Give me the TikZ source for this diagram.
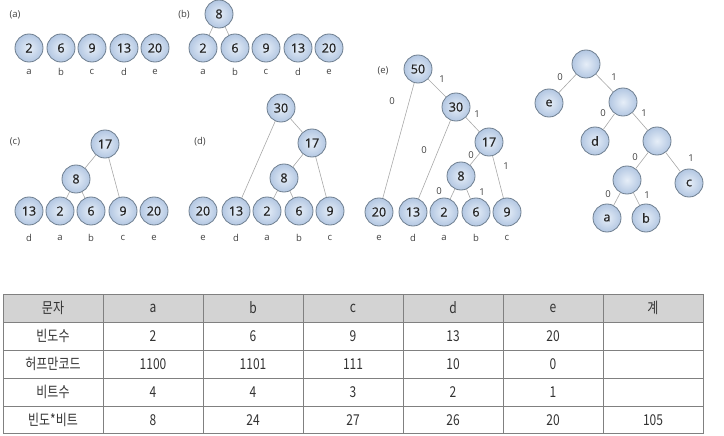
\documentclass[tikz,border=0pt]{standalone}
\usepackage{fontspec}
\setmainfont{Open Sans}
\newfontfamily\kr[FakeStretch=0.8]{Noto Sans CJK KR}
\newfontfamily\numf[FakeBold=0.8]{Open Sans}
\definecolor{rim}{HTML}{6F7F90}
\definecolor{ballin}{HTML}{E6EEF8}
\definecolor{ballout}{HTML}{B3C7E2}
\definecolor{edg}{HTML}{A8A8A8}
\definecolor{grid}{HTML}{808080}
\definecolor{head}{HTML}{D3D3D3}
\definecolor{txt}{HTML}{333333}
\tikzset{
  nd/.style={circle, minimum size=28pt, inner sep=0pt, draw=rim, line width=0.8pt,
    inner color=ballin, outer color=ballout, font=\numf\fontsize{12.5}{12.5}\selectfont, text=black!85},
  lf/.style={inner sep=0pt, font=\fontsize{9.5}{9.5}\selectfont, text=black!75},
  el/.style={inner sep=0pt, font=\fontsize{9.5}{9.5}\selectfont, text=black!75},
  ed/.style={draw=edg, line width=0.6pt},
  cell/.style={inner sep=0pt, font=\kr\fontsize{15}{15}\selectfont, text=txt},
}
\begin{document}
\begin{tikzpicture}[x=1pt,y=-1pt]
\useasboundingbox (0,0) rectangle (724,436);
% ---------- (a)
\node[lf] (la) at (15,15) {(a)};
\foreach \n/\v/\x/\l in {a2/2/29/a, a6/6/61/b, a9/9/92/c, a13/13/124/d, a20/20/155/e}{
  \node[nd] (\n) at (\x,48) {\v};
  \node[lf] (\n l) at (\x,72) {\l};
}
% ---------- (b)
\node[lf] (lb) at (184,15) {(b)};
\foreach \n/\v/\x/\l in {b2/2/203/a, b6/6/235/b, b9/9/266/c, b13/13/298/d, b20/20/329/e}{
  \node[nd] (\n) at (\x,48) {\v};
  \node[lf] (\n l) at (\x,72) {\l};
}
\node[nd] (b8) at (219,14) {8};
\draw[ed] (b8) -- (b2);
\draw[ed] (b8) -- (b6);
% ---------- (c)
\node[lf] (lc) at (15,142) {(c)};
\foreach \n/\v/\x/\l in {c13/13/29/d, c2/2/60/a, c6/6/91/b, c9/9/123/c, c20/20/154/e}{
  \node[nd] (\n) at (\x,211) {\v};
  \node[lf] (\n l) at (\x,238) {\l};
}
\node[nd] (c17) at (105,144) {17};
\node[nd] (c8) at (76,179) {8};
\draw[ed] (c17) -- (c8);
\draw[ed] (c17) -- (c9);
\draw[ed] (c8) -- (c2);
\draw[ed] (c8) -- (c6);
% ---------- (d)
\node[lf] (ld) at (200,142) {(d)};
\foreach \n/\v/\x/\l in {d20/20/203/e, d13/13/236/d, d2/2/267/a, d6/6/299/b, d9/9/330/c}{
  \node[nd] (\n) at (\x,211) {\v};
  \node[lf] (\n l) at (\x,238) {\l};
}
\node[nd] (d30) at (281,108) {30};
\node[nd] (d17) at (312,143) {17};
\node[nd] (d8) at (284,178) {8};
\draw[ed] (d30) -- (d13);
\draw[ed] (d30) -- (d17);
\draw[ed] (d17) -- (d8);
\draw[ed] (d17) -- (d9);
\draw[ed] (d8) -- (d2);
\draw[ed] (d8) -- (d6);
% ---------- (e)
\node[lf] (le) at (383,71) {(e)};
\foreach \n/\v/\x/\l in {e20/20/379/e, e13/13/413/d, e2/2/444/a, e6/6/476/b, e9/9/507/c}{
  \node[nd] (\n) at (\x,212) {\v};
  \node[lf] (\n l) at (\x,238) {\l};
}
\node[nd] (e50) at (418,69) {50};
\node[nd] (e30) at (456,107) {30};
\node[nd] (e17) at (489,142) {17};
\node[nd] (e8) at (461,176) {8};
\draw[ed] (e50) -- (e20);
\draw[ed] (e50) -- (e30);
\draw[ed] (e30) -- (e13);
\draw[ed] (e30) -- (e17);
\draw[ed] (e17) -- (e8);
\draw[ed] (e17) -- (e9);
\draw[ed] (e8) -- (e2);
\draw[ed] (e8) -- (e6);
\node[el] (ea) at (442,79) {1};
\node[el] (eb) at (392,101) {0};
\node[el] (ec) at (477,114) {1};
\node[el] (ed0) at (424,150) {0};
\node[el] (ee) at (471,155) {0};
\node[el] (ef) at (506,166) {1};
\node[el] (eg) at (439,191) {0};
\node[el] (eh) at (482,192) {1};
% ---------- final tree
\node[nd] (r0) at (586,64) {};
\node[nd] (re) at (549,103) {e};
\node[nd] (r1) at (623,102) {};
\node[nd] (rd) at (595,141) {d};
\node[nd] (r2) at (657,141) {};
\node[nd] (r3) at (627,180) {};
\node[nd] (rc) at (689,183) {c};
\node[nd] (ra) at (607,218) {a};
\node[nd] (rb) at (646,218) {b};
\draw[ed] (r0) -- (re);
\draw[ed] (r0) -- (r1);
\draw[ed] (r1) -- (rd);
\draw[ed] (r1) -- (r2);
\draw[ed] (r2) -- (r3);
\draw[ed] (r2) -- (rc);
\draw[ed] (r3) -- (ra);
\draw[ed] (r3) -- (rb);
\node[el] (t1) at (560,77) {0};
\node[el] (t2) at (614,77) {1};
\node[el] (t3) at (603,113) {0};
\node[el] (t4) at (644,113) {1};
\node[el] (t5) at (635,157) {0};
\node[el] (t6) at (691,158) {1};
\node[el] (t7) at (608,194) {0};
\node[el] (t8) at (647,195) {1};
% ---------- table
\fill[head] (3,294) rectangle (703,322);
\draw[grid, line width=0.9pt] (3,294) rectangle (703,433);
\foreach \yy in {322,350,378,406}{ \draw[grid, line width=0.9pt] (3,\yy) -- (703,\yy); }
\foreach \xx in {103,203,303,403,503,603}{ \draw[grid, line width=0.9pt] (\xx,294) -- (\xx,433); }
\foreach \r/\yy in {0/308,1/336,2/364,3/392,4/420}{
  \coordinate (row\r) at (0,\yy);
}
\foreach \c/\xx in {0/53,1/153,2/253,3/353,4/453,5/553,6/653}{
  \coordinate (col\c) at (\xx,0);
}
\foreach \t [count=\i from 0] in {문자,a,b,c,d,e,계}{ \node[cell] (h\i) at (col\i |- row0) {\t}; }
\foreach \t [count=\i from 0] in {빈도수,2,6,9,13,20,{}}{ \node[cell] (p\i) at (col\i |- row1) {\t}; }
\foreach \t [count=\i from 0] in {허프만코드,1100,1101,111,10,0,{}}{ \node[cell] (q\i) at (col\i |- row2) {\t}; }
\foreach \t [count=\i from 0] in {비트수,4,4,3,2,1,{}}{ \node[cell] (s\i) at (col\i |- row3) {\t}; }
\foreach \t [count=\i from 0] in {빈도*비트,8,24,27,26,20,105}{ \node[cell] (u\i) at (col\i |- row4) {\t}; }
\end{tikzpicture}
\end{document}
